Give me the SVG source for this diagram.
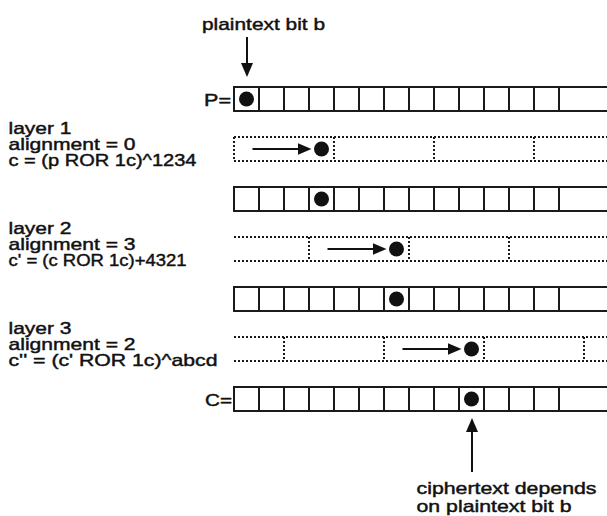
<svg xmlns="http://www.w3.org/2000/svg" width="607" height="516" viewBox="0 0 607 516">
<defs>
<marker id="ah" markerUnits="userSpaceOnUse" markerWidth="14" markerHeight="12" refX="11" refY="6" orient="auto" viewBox="0 0 14 12">
<path d="M0,0 L14,6 L0,12 z" fill="#111"/>
</marker>
<g id="cellrow">
<rect x="234" y="0" width="380" height="24" class="cells"/>
<path class="cells" d="M259 0v24M284 0v24M309 0v24M334 0v24M359 0v24M384 0v24M409 0v24M434 0v24M459 0v24M484 0v24M509 0v24M534 0v24M559 0v24"/>
</g>
</defs>
<style>
text{font-family:"Liberation Sans",Arial,Helvetica,sans-serif;font-size:17px;fill:#111;stroke:#111;stroke-width:0.45px}
.cells{fill:none;stroke:#1a1a1a;stroke-width:2}
.dotted{fill:none;stroke:#1a1a1a;stroke-width:2;stroke-dasharray:2 2}
.bit{fill:#111}
.arr{stroke:#111;stroke-width:2;fill:none;marker-end:url(#ah)}
</style>
<rect width="607" height="516" fill="#fff"/>

<g id="label-plaintext">
<text x="202" y="30" textLength="123" lengthAdjust="spacingAndGlyphs">plaintext bit b</text>
</g>

<g id="row-P">
<text x="204" y="105.5" textLength="27" lengthAdjust="spacingAndGlyphs">P=</text>
<use href="#cellrow" y="87"/>
<circle class="bit" cx="246.5" cy="99" r="7.5"/>
</g>

<g id="layer1-label">
<text x="8.5" y="134" textLength="63" lengthAdjust="spacingAndGlyphs">layer 1</text>
<text x="8.5" y="150" textLength="127" lengthAdjust="spacingAndGlyphs">alignment = 0</text>
<text x="8.5" y="166" textLength="188" lengthAdjust="spacingAndGlyphs">c = (p ROR 1c)^1234</text>
</g>
<g id="layer1-blocks">
<path class="dotted" d="M234 137H612M234 161H612M234 137V161M334 137V161M434 137V161M534 137V161"/>
<circle class="bit" cx="321.5" cy="149" r="7.5"/>
</g>

<g id="row-1">
<use href="#cellrow" y="187"/>
<circle class="bit" cx="321.5" cy="199" r="7.5"/>
</g>

<g id="layer2-label">
<text x="8.5" y="234" textLength="63" lengthAdjust="spacingAndGlyphs">layer 2</text>
<text x="8.5" y="250" textLength="127" lengthAdjust="spacingAndGlyphs">alignment = 3</text>
<text x="8.5" y="266" textLength="178" lengthAdjust="spacingAndGlyphs">c' = (c ROR 1c)+4321</text>
</g>
<g id="layer2-blocks">
<path class="dotted" d="M234 237H612M234 261H612M309 237V261M409 237V261M509 237V261"/>
<circle class="bit" cx="396.5" cy="249" r="7.5"/>
</g>

<g id="row-2">
<use href="#cellrow" y="287"/>
<circle class="bit" cx="396.5" cy="299" r="7.5"/>
</g>

<g id="layer3-label">
<text x="8.5" y="334" textLength="63" lengthAdjust="spacingAndGlyphs">layer 3</text>
<text x="8.5" y="350" textLength="127" lengthAdjust="spacingAndGlyphs">alignment = 2</text>
<text x="8.5" y="366" textLength="209" lengthAdjust="spacingAndGlyphs">c'' = (c' ROR 1c)^abcd</text>
</g>
<g id="layer3-blocks">
<path class="dotted" d="M234 337H612M234 361H612M284 337V361M384 337V361M484 337V361M584 337V361"/>
<circle class="bit" cx="471.5" cy="349" r="7.5"/>
</g>

<g id="row-C">
<text x="205" y="405.5" textLength="27" lengthAdjust="spacingAndGlyphs">C=</text>
<use href="#cellrow" y="387"/>
<circle class="bit" cx="471.5" cy="399" r="7.5"/>
</g>

<g id="label-ciphertext">
<text x="416.5" y="494" textLength="180" lengthAdjust="spacingAndGlyphs">ciphertext depends</text>
<text x="416.5" y="511.5" textLength="155" lengthAdjust="spacingAndGlyphs">on plaintext bit b</text>
</g>

<g id="connectors">
<line class="arr" x1="247" y1="37" x2="247" y2="74"/>
<line class="arr" x1="252.5" y1="149" x2="308.5" y2="149"/>
<line class="arr" x1="327.5" y1="249" x2="383.5" y2="249"/>
<line class="arr" x1="402.5" y1="349" x2="458.5" y2="349"/>
<line class="arr" x1="472" y1="472" x2="472" y2="421"/>
</g>
</svg>
